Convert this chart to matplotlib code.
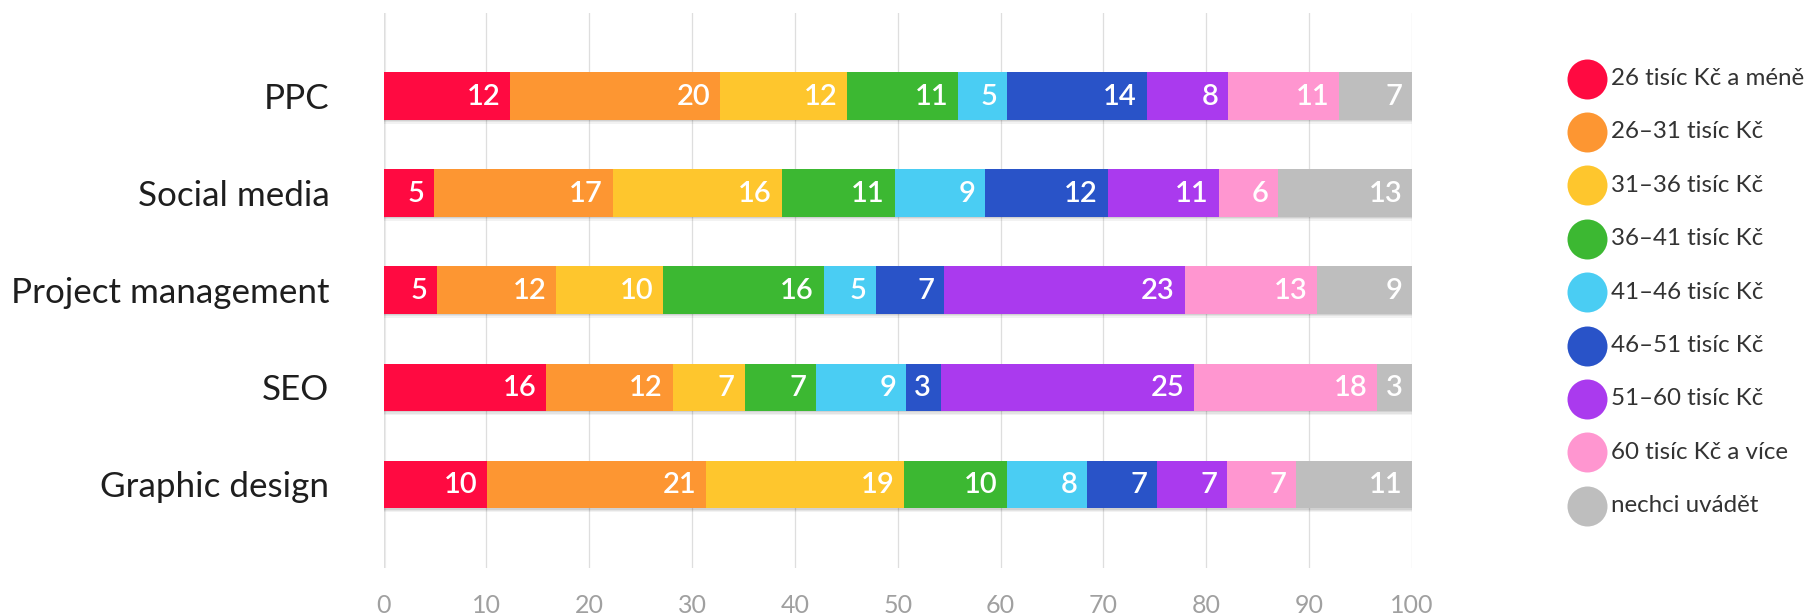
import numpy as np
import matplotlib
matplotlib.use("Agg")
import matplotlib.pyplot as plt
from matplotlib import font_manager

# ---------------- data ----------------
categories = ["PPC", "Social media", "Project management", "SEO", "Graphic design"]
series_names = ["26 tisíc Kč a méně", "26–31 tisíc Kč", "31–36 tisíc Kč", "36–41 tisíc Kč",
                "41–46 tisíc Kč", "46–51 tisíc Kč", "51–60 tisíc Kč", "60 tisíc Kč a více",
                "nechci uvádět"]
colors = ["#FF0A41", "#FD9632", "#FEC62D", "#3CB832", "#4ACDF3",
          "#2953C8", "#AA3AEE", "#FF96D0", "#BEBEBE"]
ppc            = [12.3, 20.4, 12.4, 10.8, 4.7, 13.6, 7.9, 10.8, 7.1]
social_media   = [4.9, 17.4, 16.4, 11.0, 8.8, 11.9, 10.8, 5.8, 13.0]
project_mgmt   = [5.2, 11.6, 10.4, 15.6, 5.1, 6.6, 23.4, 12.9, 9.2]
seo            = [15.8, 12.3, 7.0, 7.0, 8.7, 3.4, 24.6, 17.8, 3.4]
graphic_design = [10.1, 21.3, 19.2, 10.0, 7.8, 6.8, 6.8, 6.7, 11.3]
rows = [ppc, social_media, project_mgmt, seo, graphic_design]
xticks = [0, 10, 20, 30, 40, 50, 60, 70, 80, 90, 100]

# ---------------- fonts ----------------
avail = {f.name for f in font_manager.fontManager.ttflist}
main_font = ["Lato", "DejaVu Sans"] if "Lato" in avail else ["DejaVu Sans"]

W, H = 1811, 614
fig = plt.figure(figsize=(W / 100, H / 100), dpi=100)
x0, x1 = 383.5, 1412
ytop, ybot = 13, 568
ax = fig.add_axes([x0 / W, 1 - ybot / H, (x1 - x0) / W, (ybot - ytop) / H])

ypos = np.arange(len(categories))
bar_h = 0.49
data = np.array(rows)
lefts = np.zeros(len(categories))

# soft shadows beneath bars
for off, a in [(0.035, 0.05), (0.02, 0.06), (0.008, 0.08)]:
    ax.barh(ypos + off, data.sum(axis=1), height=bar_h + 0.01, left=0,
            color="black", alpha=a, zorder=1.5, linewidth=0)

for j in range(data.shape[1]):
    vals = data[:, j]
    ax.barh(ypos, vals, height=bar_h, left=lefts, color=colors[j], zorder=2,
            linewidth=0, label=series_names[j])
    for i, v in enumerate(vals):
        ax.annotate(str(int(round(v))), xy=(lefts[i] + v, ypos[i]), xytext=(-7, -0.5),
                    textcoords="offset points", ha="right", va="center",
                    color="white", fontsize=21, fontweight="semibold",
                    family=main_font, zorder=3)
    lefts = lefts + vals

ax.set_xlim(0, 100)
ax.set_ylim(4.86, -0.855)
ax.set_xticks(xticks)
ax.set_xticklabels([str(t) for t in xticks], fontsize=18, color="#a0a0a0", family=main_font)
ax.set_yticks(ypos)
ax.set_yticklabels(categories, fontsize=25.2, color="#1e1e1e", family=main_font)
ax.tick_params(axis="x", length=0, pad=19)
ax.tick_params(axis="y", length=0, pad=39)
for s in ax.spines.values():
    s.set_visible(False)
ax.grid(axis="x", color="#dedede", linewidth=0.9, zorder=0)
ax.set_axisbelow(True)
ax.axvline(0, color="#eeeeee", linewidth=3, zorder=0.5)

# legend (manual, pixel coordinates)
lax = fig.add_axes([0, 0, 1, 1])
lax.set_xlim(0, W)
lax.set_ylim(H, 0)
lax.axis("off")
for i, (name, c) in enumerate(zip(series_names, colors)):
    yy = 78.5 + i * 53.4
    lax.scatter([1587], [yy], s=829, color=c, linewidths=0)
    lax.text(1611, yy, name, ha="left", va="center", fontsize=17.4,
             color="#333333", family=main_font)

fig.savefig("out.png", dpi=100)
